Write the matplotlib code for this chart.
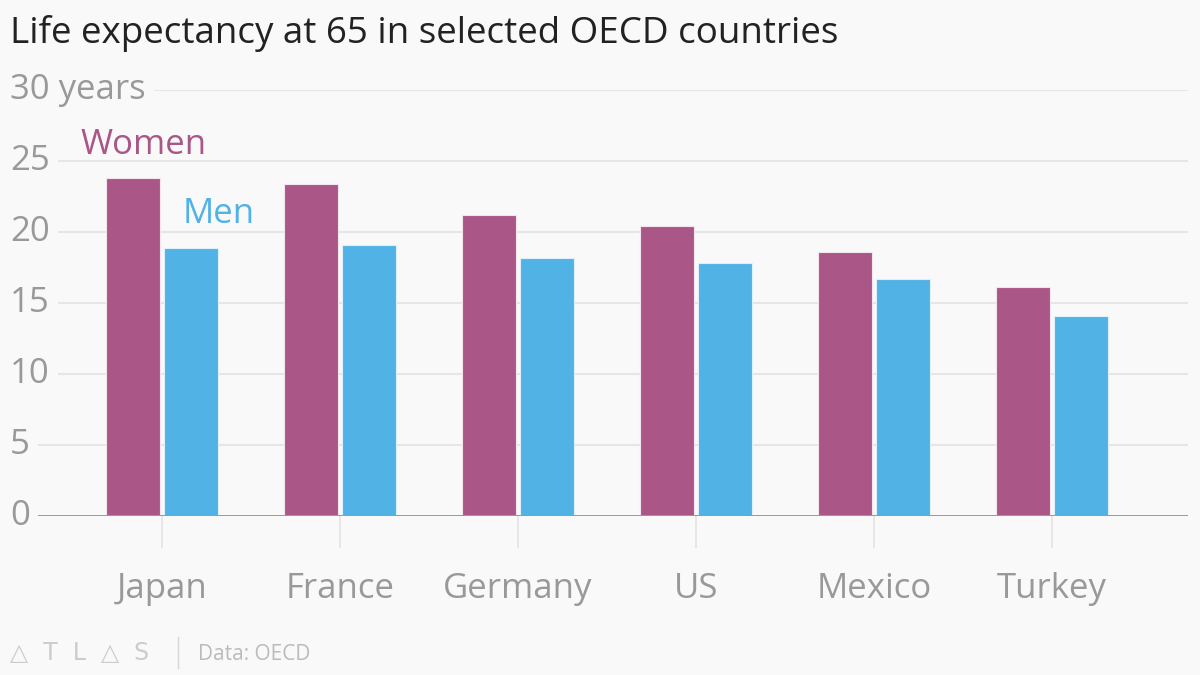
import matplotlib.pyplot as plt
import numpy as np

# %% Style
BG = "#f9f9f9"
WOMEN_COLOR = "#aa5787"
MEN_COLOR = "#51b2e5"
GRAY = "#999999"
GRID = "#e6e6e6"
plt.rcParams["font.family"] = ["Open Sans", "DejaVu Sans"]

# %% Data
countries = ["Japan", "France", "Germany", "US", "Mexico", "Turkey"]
women = [23.8, 23.4, 21.2, 20.4, 18.6, 16.1]
men = [18.9, 19.1, 18.2, 17.8, 16.7, 14.1]
y_ticks = [0, 5, 10, 15, 20, 25, 30]
y_labels = ["0", "5", "10", "15", "20", "25", "30 years"]

fig = plt.figure(figsize=(12, 6.75), dpi=100, facecolor=BG)
ax = fig.add_axes([10 / 1200, 159 / 675, 1178 / 1200, 426 / 675], facecolor=BG)

x = np.arange(len(countries))
offset = 0.163
width = 0.30
ax.bar(x - offset, women, width, color=WOMEN_COLOR, edgecolor="#f2e6ee", linewidth=0.8, zorder=3)
ax.bar(x + offset, men, width, color=MEN_COLOR, edgecolor="#dff0fa", linewidth=0.8, zorder=3)

ax.set_xlim(-0.854, 5.764)
ax.set_ylim(0, 30)

for s in ax.spines.values():
    s.set_visible(False)

# gridlines + left aligned labels
for t, lab in zip(y_ticks, y_labels):
    if t == 0:
        ax.axhline(0, color=GRAY, lw=1.4, zorder=4)
    else:
        ax.axhline(t, color=GRID, lw=1.5, zorder=1)
    ax.text(0, t, lab, transform=ax.get_yaxis_transform(), ha="left", va="center",
            fontsize=25, color=GRAY, zorder=5,
            bbox=dict(facecolor=BG, edgecolor="none", pad=6))

ax.set_yticks([])
ax.set_xticks(x)
ax.set_xticklabels(countries, fontsize=25, color=GRAY)
ax.tick_params(axis="x", length=23, width=1.2, color="#e3e3e3", pad=17)

ax.text(-0.46, 26.1, "Women", color=WOMEN_COLOR, fontsize=25, ha="left", va="center")
ax.text(0.118, 21.3, "Men", color=MEN_COLOR, fontsize=25, ha="left", va="center")

fig.text(10 / 1200, 1 - 33 / 675, "Life expectancy at 65 in selected OECD countries",
         fontsize=26.5, color="#222222", ha="left", va="center")

# footer
fig.text(10 / 1200, 1 - 653 / 675, "△  T  L  △  S", fontsize=17, color="#cccccc",
         ha="left", va="center", family=["DejaVu Sans"])
fig.add_artist(plt.Line2D([178 / 1200, 178 / 1200], [1 - 668 / 675, 1 - 637 / 675],
                          color="#d5d5d5", lw=1))
fig.text(198 / 1200, 1 - 654 / 675, "Data: OECD", fontsize=15, color="#bbbbbb",
         ha="left", va="center")

fig.savefig("out.png", dpi=100, facecolor=BG)
